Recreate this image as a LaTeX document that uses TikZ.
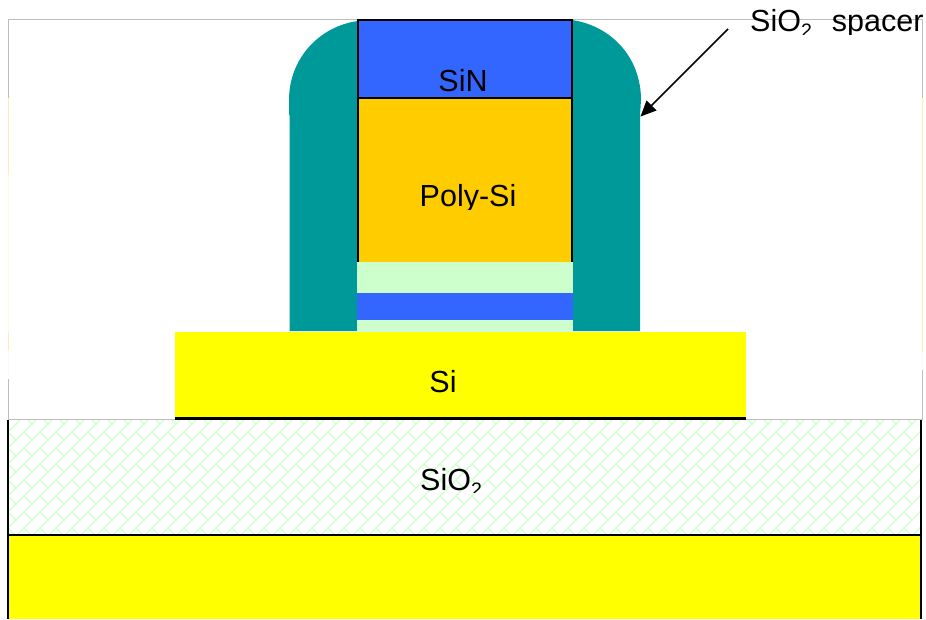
\documentclass[tikz,border=0pt]{standalone}
\usepackage{fontspec}
\setmainfont{Liberation Sans}
\newcommand{\lblfont}{\fontsize{30.5}{33}\selectfont}
\newcommand{\subtwo}{\raisebox{-6pt}{\fontsize{19.5}{20}\selectfont 2}}
\definecolor{teal1}{HTML}{009999}
\definecolor{blue1}{HTML}{3366FF}
\definecolor{gold1}{HTML}{FFCC00}
\definecolor{mint1}{HTML}{CCFFCC}
\definecolor{yel1}{HTML}{FFFF00}
\definecolor{grey1}{HTML}{BDBDBD}
\definecolor{tintA}{HTML}{FFEDB0}
\definecolor{tintB}{HTML}{FFFAE6}
\definecolor{tintC}{HTML}{F2FFF2}
\tikzset{
  lbl/.style={font=\lblfont,text=black,inner sep=0pt,anchor=base},
  frameline/.style={draw=grey1,line width=1pt},
  tintline/.style={line width=1pt},
  blackline/.style={draw=black,line width=2.2pt},
  hatchline/.style={draw=mint1,line width=1.3pt},
}
\begin{document}
\begin{tikzpicture}[x=1pt,y=-1pt]
\useasboundingbox (0,0) rectangle (926,619);
% frame
\draw[frameline] (8,98) -- (8,19.5) -- (922,19.5) -- (922,98);
\draw[frameline] (8,379) -- (8,419) -- (175,419);
\draw[frameline] (746,419) -- (922,419) -- (922,370);
\draw[tintline,draw=tintA] (8,98) -- (8,175);
\draw[tintline,draw=tintB] (8,175) -- (8,332);
\draw[tintline,draw=tintA] (8,332) -- (8,350);
\draw[tintline,draw=tintC] (8,350) -- (8,379);
\draw[tintline,draw=tintA] (922,98) -- (922,352);
\draw[tintline,draw=tintC] (922,352) -- (922,370);
% hatched oxide
\begin{scope}
\clip (9,420) rectangle (921,534);
\foreach \k in {0,...,66} {
  \draw[hatchline] ({\k*16-120},560) -- ({\k*16-120+160},400);
  \foreach \j in {0,...,9} {
    \pgfmathsetmacro{\ox}{\k*16-120+\j*16}
    \pgfmathsetmacro{\oy}{560-\j*16}
    \draw[hatchline] (\ox,\oy) -- ({\ox+8},{\oy+8});
  }
}
\end{scope}
% substrate and Si
\fill[yel1] (9,535) rectangle (921,619);
\fill[yel1] (175,332) rectangle (746,418);
\draw[blackline] (175,418.5) -- (746,418.5);
\draw[blackline] (8,535) -- (921,535);
\draw[blackline] (8,420) -- (8,619);
\draw[blackline] (921,420) -- (921,619);
% spacer
\fill[teal1] (357,331) -- (289.5,331) -- (289.5,115) -- (289,115) -- (289,100)
  .. controls (289,58) and (320,26) .. (358,21) -- (572,20)
  .. controls (612,26) and (641,58) .. (641,100) -- (640,115) -- (640,331) -- (572,331) -- cycle;
% gate stack
\fill[mint1] (357,262) rectangle (573,331);
\fill[blue1] (357,293) rectangle (573,320);
\fill[gold1] (358,98) rectangle (572,262);
\draw[blackline] (358,262) -- (358,98) -- (572,98) -- (572,262);
\draw[blackline,fill=blue1] (358,20) rectangle (572,98);
% labels
\begin{scope}
\clip (400,60) rectangle (520,96);
\node[lbl] (sin) at (463,91) {SiN};
\end{scope}
\begin{scope}
\clip (400,170) rectangle (530,209);
\node[lbl] (poly) at (468,206) {Poly-Si};
\end{scope}
\node[lbl] (si) at (443,392) {Si};
\begin{scope}
\clip (410,460) rectangle (490,492);
\node[lbl] (ox) at (451,490) {SiO\subtwo};
\end{scope}
\begin{scope}
\clip (740,0) rectangle (926,34.5);
\node[lbl,anchor=base west] (spc) at (750,31.5) {SiO\subtwo\hspace{20pt}spacer};
\end{scope}
% arrow
\coordinate (tail) at (728,29);
\coordinate (tip) at (640.5,116.5);
\fill[black] (tip) -- (656.5,110.5) -- (646.5,100.5) -- cycle;
\draw[black,line width=1.5pt] (tail) -- (651,106);
\end{tikzpicture}
\end{document}
